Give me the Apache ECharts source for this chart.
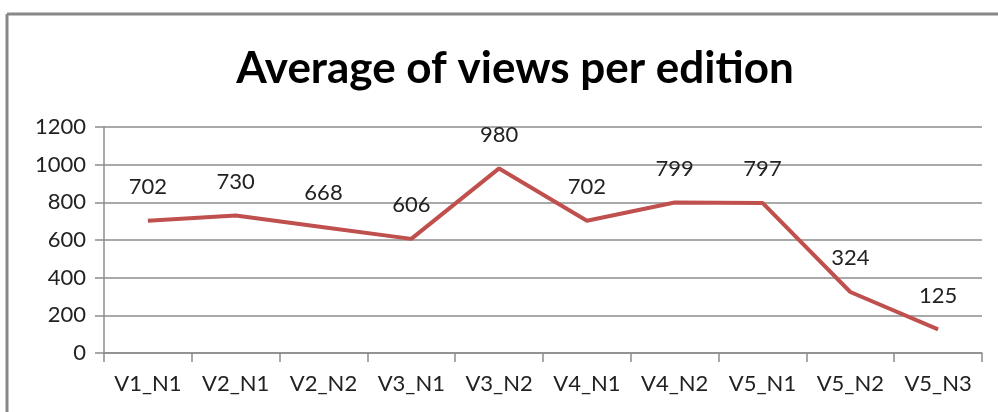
<!DOCTYPE html>
<html><head><meta charset="utf-8">
<script src="https://cdn.jsdelivr.net/npm/echarts@6/dist/echarts.min.js"></script>
<style>html,body{margin:0;padding:0;background:#fff}#c{width:998px;height:412px}</style>
</head><body><div id="c"></div>
<script>
const categories = ['V1_N1','V2_N1','V2_N2','V3_N1','V3_N2','V4_N1','V4_N2','V5_N1','V5_N2','V5_N3'];
const views = [702, 730, 668, 606, 980, 702, 799, 797, 324, 125];
const titleText = 'Average of views per edition';
const FONT = 'Lato';
const chart = echarts.init(document.getElementById('c'), null, {renderer:'canvas'});
chart.setOption({
  animation:false,
  backgroundColor:'#fff',
  title:{text:titleText, left:510, textAlign:'center', top:42,
    textStyle:{fontFamily:FONT, fontWeight:'bold', fontSize:44, color:'#000'}},
  graphic:[
    {type:'line', shape:{x1:7,y1:14,x2:998,y2:14}, style:{stroke:'#888',lineWidth:3}},
    {type:'line', shape:{x1:7,y1:14,x2:7,y2:412}, style:{stroke:'#888',lineWidth:3}}
  ],
  grid:{left:104,right:16,top:127,bottom:59},
  xAxis:{type:'category', data:categories, boundaryGap:true,
    axisLine:{lineStyle:{color:'#8c8c8c',width:1.5}},
    axisTick:{show:true,length:9,lineStyle:{color:'#8c8c8c',width:1.5}},
    axisLabel:{fontFamily:FONT,fontSize:22,color:'#222',margin:20}},
  yAxis:{type:'value', min:0, max:1200, interval:200,
    axisLine:{show:true,lineStyle:{color:'#8c8c8c',width:1.5}},
    axisTick:{show:true,length:9,lineStyle:{color:'#8c8c8c',width:1.5}},
    splitLine:{lineStyle:{color:'#8c8c8c',width:1.5}},
    axisLabel:{fontFamily:FONT,fontSize:22,color:'#222',margin:18, formatter:v=>String(v)}},
  series:[{type:'line', data:views, symbol:'circle', symbolSize:2, showSymbol:true,
    lineStyle:{color:'#C0504D',width:4}, itemStyle:{color:'rgba(0,0,0,0)', borderWidth:0},
    label:{show:true, position:'top', distance:22, fontFamily:FONT, fontSize:22, color:'#222'}}]
});
</script></body></html>
